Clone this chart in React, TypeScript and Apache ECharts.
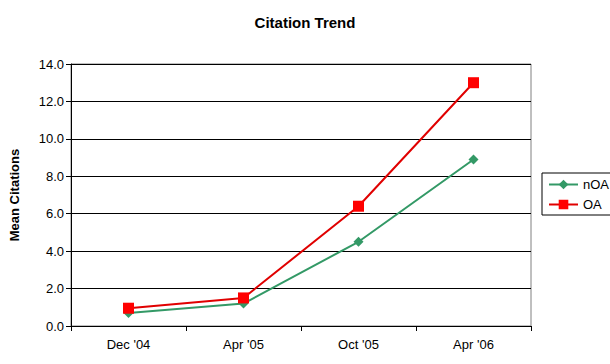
import React, { useEffect, useRef } from "react";
import * as echarts from "echarts";

const categories = ["Dec '04", "Apr '05", "Oct '05", "Apr '06"];
const nOAValues = [0.7, 1.2, 4.5, 8.9];
const oaValues = [0.95, 1.5, 6.4, 13.0];
const titleText = "Citation Trend";
const yAxisName = "Mean Citations";

export default function App() {
  const ref = useRef<HTMLDivElement>(null);
  useEffect(() => {
    document.body.style.margin = "0";
    const chart = echarts.init(ref.current!, null, { renderer: "svg" });
    const font = "Arial, 'Liberation Sans', sans-serif";
    chart.setOption({
      animation: false,
      backgroundColor: "#ffffff",
      title: {
        text: titleText,
        left: "center",
        top: 10,
        textStyle: { fontSize: 15, fontWeight: "bold", color: "#000", fontFamily: font },
      },
      grid: {
        left: 67,
        top: 64,
        width: 464,
        height: 262,
        show: true,
        borderColor: "#808080",
        borderWidth: 1,
        backgroundColor: "#ffffff",
      },
      legend: {
        orient: "vertical",
        left: 542,
        top: 173,
        borderColor: "#000",
        borderWidth: 1,
        padding: [5, 3, 4, 6],
        itemWidth: 29,
        itemHeight: 12,
        itemGap: 7,
        textStyle: { fontSize: 13, color: "#000", fontFamily: font },
        data: ["nOA", "OA"],
      },
      xAxis: {
        type: "category",
        data: categories,
        boundaryGap: true,
        axisLine: { lineStyle: { color: "#000", width: 1 } },
        axisTick: { show: true, length: 5, lineStyle: { color: "#000" } },
        axisLabel: { color: "#000", fontSize: 13, margin: 12, fontFamily: font },
        splitLine: { show: false },
      },
      yAxis: {
        type: "value",
        min: 0,
        max: 14,
        interval: 2,
        name: yAxisName,
        nameLocation: "middle",
        nameRotate: 90,
        nameGap: 50,
        nameTextStyle: { fontSize: 13, fontWeight: "bold", color: "#000", fontFamily: font },
        axisLine: { show: true, lineStyle: { color: "#000", width: 1 } },
        axisTick: { show: true, length: 5, lineStyle: { color: "#000" } },
        axisLabel: {
          color: "#000",
          fontSize: 13,
          margin: 7,
          fontFamily: font,
          formatter: (v: number) => v.toFixed(1),
        },
        splitLine: { show: true, lineStyle: { color: "#000", width: 1 } },
      },
      series: [
        {
          name: "nOA",
          type: "line",
          data: nOAValues,
          symbol: "diamond",
          symbolSize: 10,
          itemStyle: { color: "#339966" },
          lineStyle: { color: "#339966", width: 2 },
          z: 3,
        },
        {
          name: "OA",
          type: "line",
          data: oaValues,
          symbol: "rect",
          symbolSize: 11,
          itemStyle: { color: "#FF0000" },
          lineStyle: { color: "#E00000", width: 2 },
          z: 4,
        },
      ],
    });
    return () => chart.dispose();
  }, []);
  return <div ref={ref} style={{ width: 610, height: 364 }} />;
}
